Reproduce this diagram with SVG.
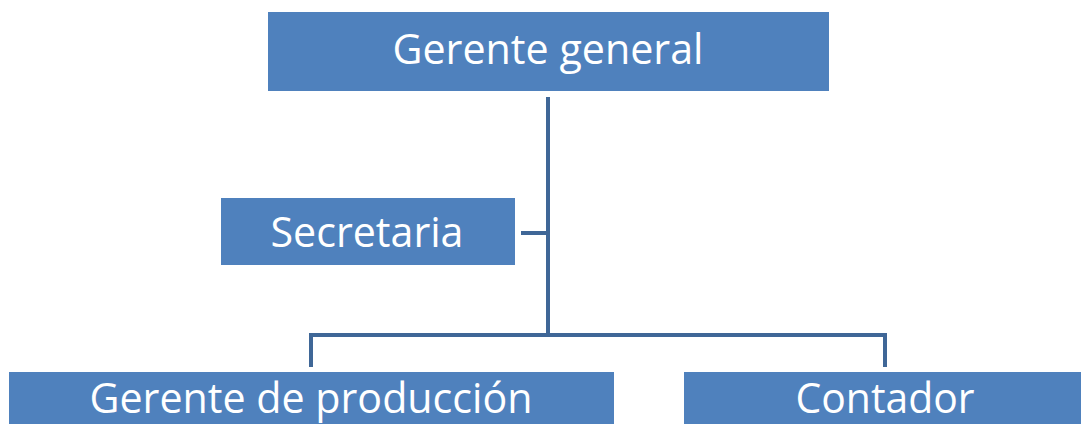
<svg xmlns="http://www.w3.org/2000/svg" width="1081" height="424" viewBox="0 0 1081 424">
<style>
.box{fill:#4f81bd}
.t{font-family:"Open Sans","Liberation Sans",Arial,sans-serif;fill:#ffffff;text-anchor:middle}
.c{fill:none;stroke:#3f6797;stroke-width:4}
</style>
<rect width="1081" height="424" fill="#ffffff"/>
<g id="connectors">
<path class="c" d="M548 97 V335"/>
<path class="c" d="M521 233 H548"/>
<path class="c" d="M311 367 V335 H885 V367"/>
</g>
<g id="gerente-general">
<rect class="box" x="268" y="12" width="561" height="79"/>
<text class="t" x="548" y="64" font-size="42" textLength="311" lengthAdjust="spacingAndGlyphs">Gerente general</text>
</g>
<g id="secretaria">
<rect class="box" x="221" y="198" width="294" height="67"/>
<text class="t" x="367" y="247" font-size="42" textLength="193" lengthAdjust="spacingAndGlyphs">Secretaria</text>
</g>
<g id="gerente-produccion">
<rect class="box" x="9" y="372" width="605" height="60"/>
<text class="t" x="311" y="413" font-size="42" textLength="443" lengthAdjust="spacingAndGlyphs">Gerente de producción</text>
</g>
<g id="contador">
<rect class="box" x="684" y="372" width="405" height="60"/>
<text class="t" x="885" y="413" font-size="42" textLength="179" lengthAdjust="spacingAndGlyphs">Contador</text>
</g>
</svg>
